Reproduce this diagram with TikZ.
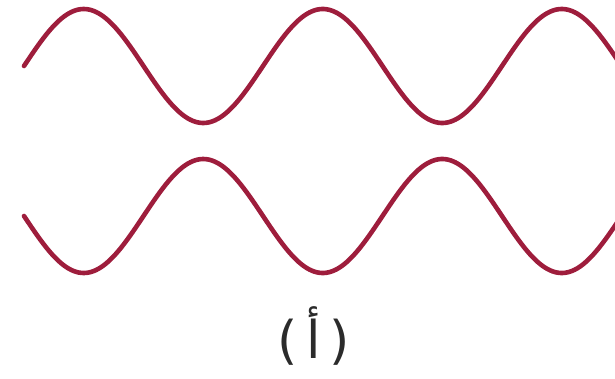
\documentclass[tikz,border=0pt]{standalone}
\usepackage{fontspec}
\usepackage{xcolor}
\usepackage{tikz}
\newfontfamily\arabicfont[Script=Arabic]{DejaVu Sans}
\newfontfamily\parenfont{DejaVu Sans}
\TeXXeTstate=1
\definecolor{cwave}{HTML}{9E1D3C}
\definecolor{ink}{HTML}{2B2B2B}

\begin{document}
\begin{tikzpicture}[x=1pt,y=-1pt]
  \useasboundingbox (0,0) rectangle (615,378);
  \tikzset{wave/.style={draw=cwave,line width=4.6pt,line cap=round}}
  % period 239, amplitude 57
  \foreach \yc/\sg in {66/1, 216/-1} {
    \draw[wave] plot[domain=24:617,samples=240,smooth] (\x,{\yc-\sg*57*sin(1.50628*(\x-24))});
  }
  \node[font=\parenfont\fontsize{52}{56}\selectfont,color=ink] (lab) at (314,336) {(\,{\arabicfont\beginR أ\endR}\,)};
\end{tikzpicture}
\end{document}
